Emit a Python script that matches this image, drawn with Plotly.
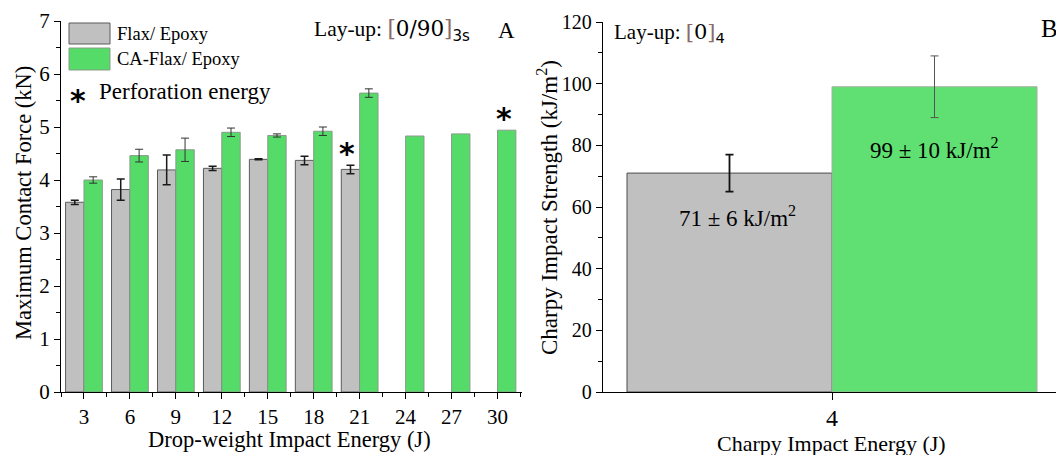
import plotly.graph_objects as go

# ---------------- data ----------------
energies = [3, 6, 9, 12, 15, 18, 21, 24, 27, 30]
flax_force = [3.58, 3.82, 4.19, 4.22, 4.39, 4.37, 4.20, None, None, None]
flax_force_err = [0.04, 0.20, 0.28, 0.04, 0.01, 0.08, 0.08, None, None, None]
ca_force = [4.00, 4.46, 4.57, 4.90, 4.84, 4.92, 5.64, 4.83, 4.87, 4.94]
ca_force_err = [0.06, 0.12, 0.22, 0.08, 0.03, 0.08, 0.08, None, None, None]
perforation = [("Flax/ Epoxy", 21), ("CA-Flax/ Epoxy", 30)]

charpy_energy = [4]
flax_charpy = [71]
flax_charpy_err = [6]
ca_charpy = [99]
ca_charpy_err = [10]

series_names = ["Flax/ Epoxy", "CA-Flax/ Epoxy"]

# ---------------- style ----------------
W, H = 1056, 455
FONT = "Liberation Serif"
GRAY = "#c0c0c0"
GREEN_A = "#55dc68"
GREEN_B = "#60e072"
BRACKET = "#8b6a6a"


def px(x):
    return x / W


def py(y):
    return 1 - y / H


fig = go.Figure()

BW = 1.2  # bar width in J


def error_points(xs, vals, errs, shift):
    """Error bars only where an error value exists (at bar centres)."""
    idx = [i for i, e in enumerate(errs) if e is not None]
    return ([xs[i] + shift for i in idx], [vals[i] for i in idx], [errs[i] for i in idx])


fig.add_trace(go.Bar(
    x=energies, y=flax_force, name=series_names[0], width=BW, offset=-BW,
    marker=dict(color=GRAY, line=dict(color="#5a5a5a", width=1)),
    xaxis="x", yaxis="y", showlegend=False))
fig.add_trace(go.Bar(
    x=energies, y=ca_force, name=series_names[1], width=BW, offset=0,
    marker=dict(color=GREEN_A, line=dict(color="#8a9a8a", width=1)),
    xaxis="x", yaxis="y", showlegend=False))

ex, ey, ee = error_points(energies, flax_force, flax_force_err, -BW / 2)
fig.add_trace(go.Scatter(
    x=ex, y=ey, mode="markers", marker=dict(opacity=0, size=1),
    error_y=dict(type="data", array=ee, color="#1a1a1a", thickness=1.5, width=4),
    xaxis="x", yaxis="y", showlegend=False, hoverinfo="skip"))
ex, ey, ee = error_points(energies, ca_force, ca_force_err, BW / 2)
fig.add_trace(go.Scatter(
    x=ex, y=ey, mode="markers", marker=dict(opacity=0, size=1),
    error_y=dict(type="data", array=ee, color="#333333", thickness=1, width=4),
    xaxis="x", yaxis="y", showlegend=False, hoverinfo="skip"))

fig.add_trace(go.Bar(
    x=charpy_energy, y=flax_charpy, name=series_names[0], width=1, offset=-1,
    marker=dict(color=GRAY, line=dict(color="#4a4a4a", width=1)),
    error_y=dict(type="data", array=flax_charpy_err, color="#111111", thickness=1.8, width=4),
    xaxis="x2", yaxis="y2", showlegend=False))
fig.add_trace(go.Bar(
    x=charpy_energy, y=ca_charpy, name=series_names[1], width=1, offset=0,
    marker=dict(color=GREEN_B, line=dict(color="#a0b0a0", width=1)),
    error_y=dict(type="data", array=ca_charpy_err, color="#555555", thickness=1, width=4),
    xaxis="x2", yaxis="y2", showlegend=False))

axis_common = dict(
    showline=True, linecolor="black", linewidth=1.3, ticks="outside",
    tickcolor="black", tickwidth=1.3, showgrid=False, zeroline=False,
    tickfont=dict(family=FONT, size=21, color="black"), automargin=False,
)

fig.update_layout(
    width=W, height=H, autosize=False,
    margin=dict(l=0, r=0, t=0, b=0),
    paper_bgcolor="white", plot_bgcolor="white",
    barmode="overlay",
    xaxis=dict(**axis_common, domain=[px(61), px(522)], range=[1.5, 31.6],
               tick0=0, dtick=3, ticklen=6,
               minor=dict(dtick=1.5, ticks="outside", ticklen=4, tickcolor="black", tickwidth=1.2),
               anchor="y"),
    yaxis=dict(**axis_common, domain=[py(392), py(21)], range=[0, 7],
               dtick=1, ticklen=6,
               minor=dict(dtick=0.5, ticks="outside", ticklen=4, tickcolor="black", tickwidth=1.2),
               anchor="x"),
    xaxis2=dict(**axis_common, domain=[px(603), 1.0], range=[4 - 229 / 205, 4 + 224 / 205],
                tickmode="array", tickvals=charpy_energy, ticktext=[str(v) for v in charpy_energy],
                ticklen=7, ticklabelstandoff=-3, anchor="y2"),
    yaxis2=dict(**axis_common, domain=[py(392), py(22)], range=[0, 120],
                dtick=20, ticklen=6,
                minor=dict(dtick=10, ticks="outside", ticklen=4, tickcolor="black", tickwidth=1.2),
                anchor="x2"),
)
fig.update_xaxes(tickfont=dict(size=24), selector=dict(anchor="y2"))
fig.update_yaxes(tickfont=dict(size=20), selector=dict(anchor="x2"))

ann = []


def text(x, y, s, size, xanchor="center", yanchor="middle", angle=0, color="black", family=FONT,
         xref="paper", yref="paper", weight="normal"):
    ann.append(dict(x=x, y=y, xref=xref, yref=yref, text=s, showarrow=False,
                    xanchor=xanchor, yanchor=yanchor, textangle=angle,
                    font=dict(family=family, size=size, color=color, weight=weight)))


def layup(core, sub):
    br = f"font-family:'DejaVu Serif';color:{BRACKET}"
    return (f"Lay-up: <span style=\"{br}\">[</span>"
            f"<span style=\"font-family:'DejaVu Serif'\">{core}</span>"
            f"<span style=\"{br}\">]</span>"
            f"<sub><span style=\"font-family:'DejaVu Sans'\">{sub}</span></sub>")


# axis titles
text(px(23), py(203), "Maximum Contact Force (kN)", 22.5, angle=-90)
text(px(289), py(439), "Drop-weight Impact Energy (J)", 22.5)
text(px(548), py(208), "Charpy Impact Strength (kJ/m<sup>2</sup>)", 23, angle=-90)
text(px(831), py(443), "Charpy Impact Energy (J)", 22)

# lay-up labels and panel letters
text(px(312), py(31), layup("0/90", "3s"), 21.5, xanchor="left")
text(px(496), py(31), "A", 23, xanchor="left")
text(px(612), py(33), layup("0", "4"), 21, xanchor="left")
text(px(1039), py(29), "B", 25, xanchor="left")

# manual legend
shapes = [
    dict(type="rect", xref="paper", yref="paper", x0=px(69), x1=px(110), y0=py(44), y1=py(23),
         fillcolor=GRAY, line=dict(color="#5a5a5a", width=1)),
    dict(type="rect", xref="paper", yref="paper", x0=px(69), x1=px(110), y0=py(70), y1=py(48),
         fillcolor=GREEN_A, line=dict(color="#8a9a8a", width=1)),
]
text(px(115), py(34), series_names[0], 18.5, xanchor="left")
text(px(115), py(59), series_names[1], 18.5, xanchor="left")
text(px(78), py(100), "*", 30, family="DejaVu Sans", weight="bold")
text(px(97), py(92), "Perforation energy", 23, xanchor="left")

# perforation asterisks above bars
lookup = {series_names[0]: (flax_force, flax_force_err, -BW / 2),
          series_names[1]: (ca_force, ca_force_err, BW / 2)}
for name, e in perforation:
    vals, errs, off = lookup[name]
    i = energies.index(e)
    top = vals[i] + (errs[i] or 0)
    ann.append(dict(x=e + off - 0.2, y=top, xref="x", yref="y", text="*", showarrow=False,
                    xanchor="center", yanchor="bottom", yshift=-8,
                    font=dict(family="DejaVu Sans", size=30, color="black", weight="bold")))

# value labels on charpy bars
ann.append(dict(x=charpy_energy[0] - 0.46, y=57, xref="x2", yref="y2",
                text=f"{flax_charpy[0]} ± {flax_charpy_err[0]} kJ/m<sup>2</sup>", showarrow=False,
                font=dict(family=FONT, size=23, color="black")))
ann.append(dict(x=charpy_energy[0] + 0.5, y=79, xref="x2", yref="y2",
                text=f"{ca_charpy[0]} ± {ca_charpy_err[0]} kJ/m<sup>2</sup>", showarrow=False,
                font=dict(family=FONT, size=23, color="black")))

fig.update_layout(annotations=ann, shapes=shapes)
fig.write_html("out.html")
